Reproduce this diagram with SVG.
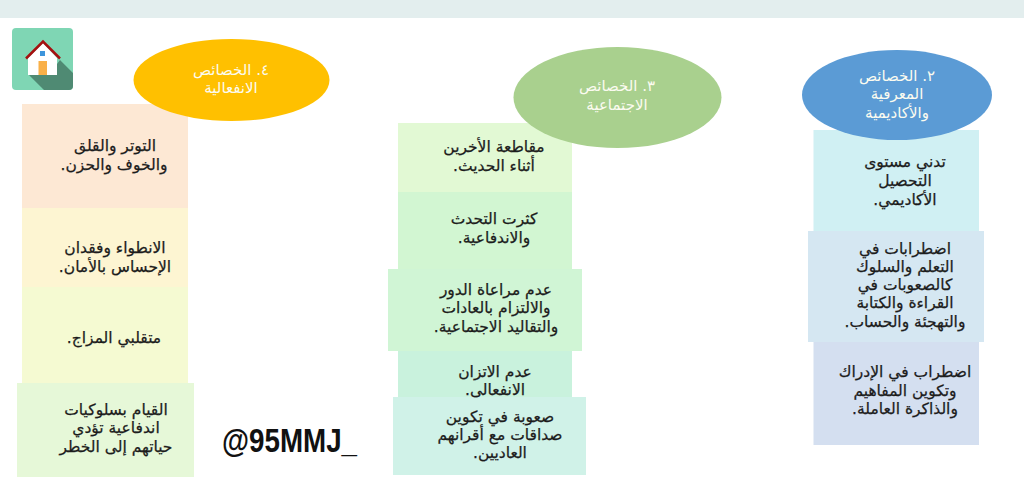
<svg xmlns="http://www.w3.org/2000/svg" width="1024" height="498" viewBox="0 0 1024 498">
<style>
text{font-family:"DejaVu Sans","Noto Sans",sans-serif;text-anchor:middle;direction:rtl}
.b{font-size:15.500px;fill:#1c1c1c;stroke:#1c1c1c;stroke-width:.25px}
.h{font-size:15px;fill:#fbfbf0}
</style>
<rect width="1024" height="498" fill="#fff"/>
<rect width="1024" height="18" fill="#e3eeee"/>
<g id="icon">
<rect x="12" y="28" width="61" height="62" rx="4" fill="#7fd6b4"/>
<path d="M29 75H57V64L60 60 73 73V86Q73 90 69 90H44Z" fill="#4f8a73"/>
<path d="M28 75V58L43 43 57 58V75Z" fill="#fff"/>
<rect x="38.500" y="61" width="8.500" height="14" fill="#f9b048"/>
<rect x="40" y="51" width="5" height="5" fill="#3d95dc"/>
<path d="M26 58.500L43 41.500 60 58.500" fill="none" stroke="#a50f0f" stroke-width="2.500"/>
</g>
<g id="col4">
<g id="b41"><rect x="22" y="104" width="166" height="104" fill="#fde8d4"/><text class="b" x="115" y="151">التوتر والقلق</text><text class="b" x="114" y="170">والخوف والحزن.</text></g>
<g id="b42"><rect x="22" y="208" width="166" height="79" fill="#fdf5d2"/><text class="b" x="115" y="253">الانطواء وفقدان</text><text class="b" x="115" y="272">الإحساس بالأمان.</text></g>
<g id="b43"><rect x="22" y="287" width="166" height="96" fill="#f5fad2"/><text class="b" x="114" y="343">متقلبي المزاج.</text></g>
<g id="b44"><rect x="17" y="383" width="177" height="94" fill="#e6f8d8"/><text class="b" x="116" y="415">القيام بسلوكيات</text><text class="b" x="116" y="433">اندفاعية تؤدي</text><text class="b" x="116" y="452">حياتهم إلى الخطر</text></g>
<g id="e4"><ellipse cx="231.500" cy="80" rx="98" ry="41" fill="#ffc000"/><text class="h" x="231" y="75">٤. الخصائص</text><text class="h" x="231" y="93">الانفعالية</text></g>
</g>
<g id="col3">
<g id="b31"><rect x="398" y="123" width="174" height="69" fill="#e2f9d4"/><text class="b" x="494" y="152">مقاطعة الأخرين</text><text class="b" x="494" y="171">أثناء الحديث.</text></g>
<g id="b32"><rect x="398" y="192" width="174" height="77" fill="#d2f6d2"/><text class="b" x="494" y="224">كثرت التحدث</text><text class="b" x="494" y="243">والاندفاعية.</text></g>
<g id="b33"><rect x="388" y="269" width="194" height="82" fill="#d0f5d5"/><text class="b" x="496" y="295">عدم مراعاة الدور</text><text class="b" x="496" y="313">والالتزام بالعادات</text><text class="b" x="496" y="332">والتقاليد الاجتماعية.</text></g>
<g id="b34"><rect x="398" y="351" width="174" height="46" fill="#c9f2dd"/></g>
<g id="b35"><rect x="393" y="397" width="193" height="78" fill="#d0f2e8"/><text class="b" x="500" y="422">صعوبة في تكوين</text><text class="b" x="500" y="440">صداقات مع أقرانهم</text><text class="b" x="500" y="458">العاديين.</text></g>
<g id="b34-text"><text class="b" x="495" y="377">عدم الاتزان</text><text class="b" x="495" y="395">الانفعالى.</text></g>
<g id="e3"><ellipse cx="617.500" cy="97.500" rx="104" ry="50.500" fill="#a9d08e"/><text class="h" x="617" y="91">٣. الخصائص</text><text class="h" x="617" y="110">الاجتماعية</text></g>
</g>
<g id="col2">
<g id="b21"><rect x="813.500" y="130" width="165.500" height="101" fill="#d0f0f3"/><text class="b" x="905" y="167">تدني مستوى</text><text class="b" x="905" y="186">التحصيل</text><text class="b" x="905" y="205">الأكاديمي.</text></g>
<g id="b22"><rect x="808" y="231" width="176" height="111" fill="#d5e7f2"/><text class="b" x="905" y="254">اضطرابات في</text><text class="b" x="905" y="272">التعلم والسلوك</text><text class="b" x="905" y="290">كالصعوبات في</text><text class="b" x="905" y="308">القراءة والكتابة</text><text class="b" x="905" y="327">والتهجئة والحساب.</text></g>
<g id="b23"><rect x="813.500" y="342" width="165.500" height="103" fill="#d4dff0"/><text class="b" x="905" y="377">اضطراب في الإدراك</text><text class="b" x="905" y="396">وتكوين المفاهيم</text><text class="b" x="905" y="414">والذاكرة العاملة.</text></g>
<g id="e2"><ellipse cx="897" cy="95" rx="95" ry="45" fill="#5b9bd5"/><text class="h" x="897" y="81">٢. الخصائص</text><text class="h" x="897" y="99">المعرفية</text><text class="h" x="897" y="118">والأكاديمية</text></g>
</g>
<text id="handle" x="289.500" y="451.500" textLength="135" lengthAdjust="spacingAndGlyphs" style="font-family:'Liberation Sans',Arial,sans-serif;font-weight:700;font-size:32.500px;direction:ltr" fill="#111">@95MMJ_</text>
</svg>
